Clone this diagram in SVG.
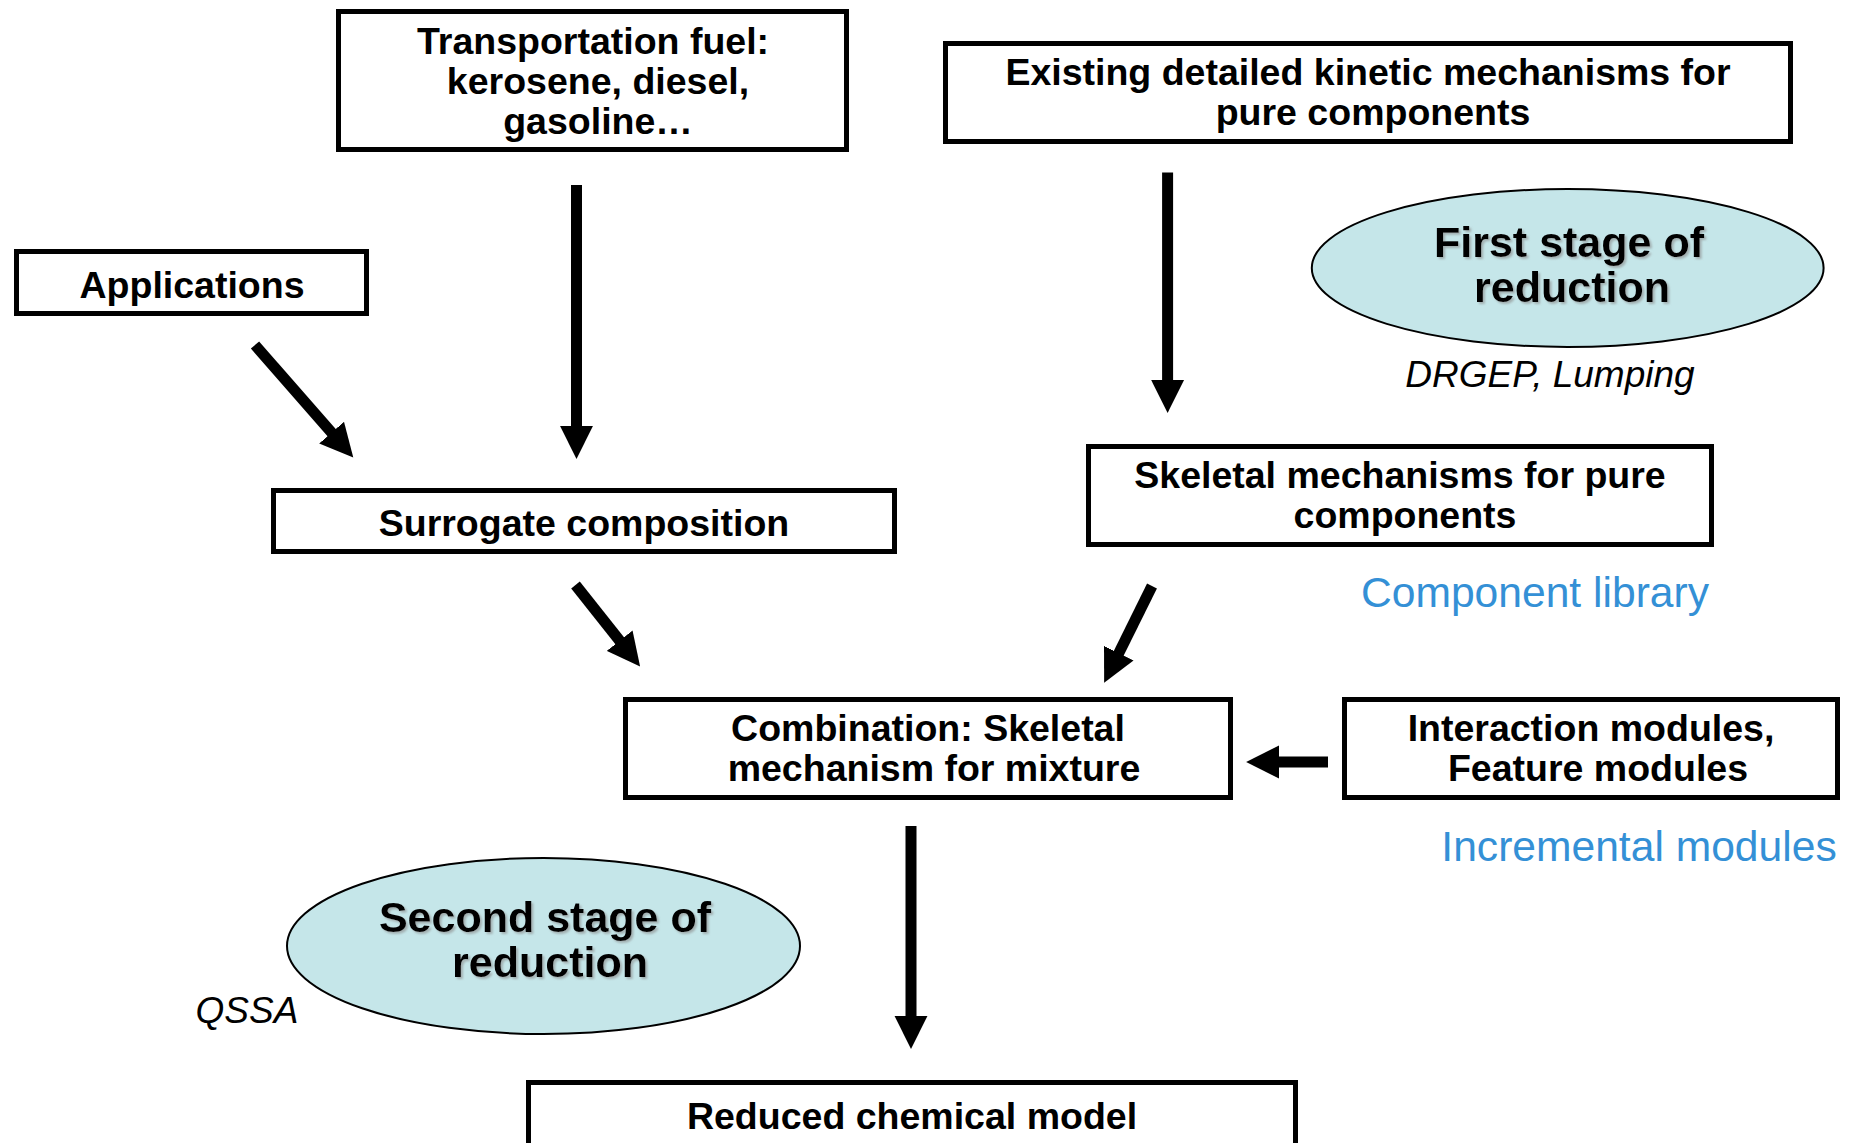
<svg xmlns="http://www.w3.org/2000/svg" width="1853" height="1143" viewBox="0 0 1853 1143">
<style>
.box{fill:#fff;stroke:#000;stroke-width:5}
.ell{fill:#c5e6e9;stroke:#000;stroke-width:2}
.t{font-family:"Liberation Sans",Arial,sans-serif;font-weight:bold;font-size:37.5px;text-anchor:middle;fill:#000}
.e{font-family:"Liberation Sans",Arial,sans-serif;font-weight:bold;font-size:43px;text-anchor:middle;fill:#000;filter:url(#sh)}
.i{font-family:"Liberation Sans",Arial,sans-serif;font-style:italic;font-size:37px;text-anchor:middle;fill:#000}
.b{font-family:"Liberation Sans",Arial,sans-serif;font-size:42.6px;text-anchor:middle;fill:#3490d6}
.c{stroke:#000;stroke-width:11;fill:none;marker-end:url(#ah)}
</style>
<defs>
<marker id="ah" markerUnits="userSpaceOnUse" markerWidth="34" markerHeight="34" viewBox="0 -16 32 32" refX="1" refY="0" orient="auto">
<path d="M0,-15.5 L31,0 L0,15.5 Z" fill="#000"/>
</marker>
<filter id="sh" x="-10%" y="-20%" width="120%" height="140%">
<feDropShadow dx="2" dy="2" stdDeviation="1" flood-color="#8a8a8a" flood-opacity="0.6"/>
</filter>
</defs>
<rect width="1853" height="1143" fill="#fff"/>
<g id="connectors">
<line class="c" x1="576.5" y1="185" x2="576.5" y2="427"/>
<line class="c" x1="255" y1="345" x2="332.3" y2="433.4"/>
<line class="c" x1="1167.6" y1="172.5" x2="1167.6" y2="381"/>
<line class="c" x1="575.5" y1="585" x2="620.3" y2="641.5"/>
<line class="c" x1="1152" y1="586" x2="1118.3" y2="654.1"/>
<line class="c" x1="1328" y1="762" x2="1278" y2="762"/>
<line class="c" x1="911" y1="826" x2="911" y2="1017"/>
</g>
<g id="transportation">
<rect class="box" x="338.5" y="11.5" width="508" height="138"/>
<text class="t" x="593" y="54">Transportation fuel:</text>
<text class="t" x="598" y="94">kerosene, diesel,</text>
<text class="t" x="598" y="134">gasoline…</text>
</g>
<g id="existing">
<rect class="box" x="945.5" y="43.5" width="845" height="98"/>
<text class="t" x="1368" y="85">Existing detailed kinetic mechanisms for</text>
<text class="t" x="1373" y="125">pure components</text>
</g>
<g id="applications">
<rect class="box" x="16.5" y="251.5" width="350" height="62"/>
<text class="t" x="192" y="298">Applications</text>
</g>
<g id="first-stage">
<ellipse class="ell" cx="1567.7" cy="268" rx="255.9" ry="79"/>
<text class="e" x="1569" y="257">First stage of</text>
<text class="e" x="1572" y="302">reduction</text>
<text class="i" x="1550" y="387">DRGEP, Lumping</text>
</g>
<g id="surrogate">
<rect class="box" x="273.5" y="490.5" width="621" height="61"/>
<text class="t" x="584" y="536">Surrogate composition</text>
</g>
<g id="skeletal">
<rect class="box" x="1088.5" y="446.5" width="623" height="98"/>
<text class="t" x="1400" y="488">Skeletal mechanisms for pure</text>
<text class="t" x="1405" y="528">components</text>
<text class="b" x="1535" y="607">Component library</text>
</g>
<g id="combination">
<rect class="box" x="625.5" y="699.5" width="605" height="98"/>
<text class="t" x="928" y="741">Combination: Skeletal</text>
<text class="t" x="934" y="781">mechanism for mixture</text>
</g>
<g id="interaction">
<rect class="box" x="1344.5" y="699.5" width="493" height="98"/>
<text class="t" x="1591" y="741">Interaction modules,</text>
<text class="t" x="1598" y="781">Feature modules</text>
<text class="b" x="1639" y="861">Incremental modules</text>
</g>
<g id="second-stage">
<ellipse class="ell" cx="543.5" cy="946" rx="256.5" ry="88"/>
<text class="e" x="545" y="932">Second stage of</text>
<text class="e" x="550" y="977">reduction</text>
<text class="i" x="247" y="1023">QSSA</text>
</g>
<g id="reduced">
<rect class="box" x="528.5" y="1082.5" width="767" height="100"/>
<text class="t" x="912" y="1129">Reduced chemical model</text>
</g>
</svg>
